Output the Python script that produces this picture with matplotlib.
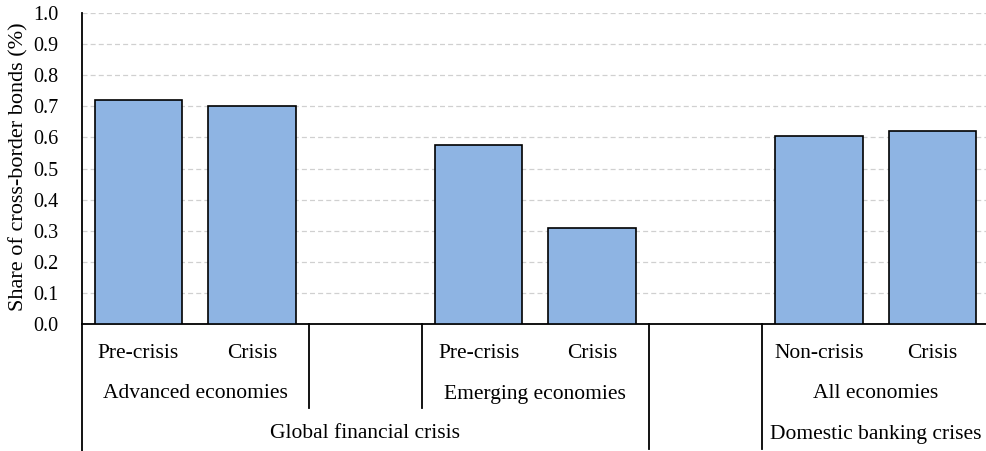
import matplotlib
matplotlib.use("Agg")
import matplotlib.pyplot as plt
import matplotlib.transforms as mtransforms
from matplotlib.lines import Line2D

plt.rcParams['font.family'] = ['Liberation Serif', 'DejaVu Serif']

# Data
sub_labels = ["Pre-crisis", "Crisis", "", "Pre-crisis", "Crisis", "", "Non-crisis", "Crisis"]
values = [0.72, 0.70, None, 0.575, 0.308, None, 0.605, 0.622]
group_labels = ["Advanced economies", "Emerging economies", "All economies"]
group_spans = [(0, 1), (3, 4), (6, 7)]
top_labels = ["Global financial crisis", "Domestic banking crises"]
top_spans = [(0, 4), (6, 7)]
y_ticks = [0.0, 0.1, 0.2, 0.3, 0.4, 0.5, 0.6, 0.7, 0.8, 0.9, 1.0]
y_label = "Share of cross-border bonds (%)"

W, H = 986, 451
fig = plt.figure(figsize=(W / 100, H / 100), dpi=100)
ax = fig.add_axes([81.75 / W, 1 - 324 / H, (989 - 81.75) / W, (324 - 13) / H])

xs = [i for i, v in enumerate(values) if v is not None]
vs = [v for v in values if v is not None]
ax.bar(xs, vs, width=0.77, color="#8EB4E3", edgecolor="black", linewidth=1.2, zorder=3)

ax.set_xlim(-0.5, len(values) - 0.5)
ax.set_ylim(0, 1.0)
ax.set_yticks(y_ticks)
ax.set_yticklabels([f"{t:.1f}" for t in y_ticks], fontsize=14.5)
ax.tick_params(axis="y", length=0, pad=17)
ax.set_xticks([])
ax.grid(axis="y", color="#d0d0d0", linestyle=(0, (4, 2.5)), linewidth=0.9, zorder=0)
for s in ["top", "right"]:
    ax.spines[s].set_visible(False)
ax.spines["left"].set_linewidth(1.3)
ax.spines["bottom"].set_linewidth(1.3)
ax.set_ylabel(y_label, fontsize=16)
ax.yaxis.set_label_coords(-0.059, 0.505)

trans = mtransforms.blended_transform_factory(ax.transData, fig.transFigure)

def fy(py):
    return 1 - py / H

fs = 15.5
for i, lab in enumerate(sub_labels):
    if lab:
        ax.text(i, fy(353), lab, transform=trans, ha="center", va="center", fontsize=fs)
for lab, (a, b) in zip(group_labels, group_spans):
    ax.text((a + b) / 2, fy(394), lab, transform=trans, ha="center", va="center", fontsize=fs)
for lab, (a, b) in zip(top_labels, top_spans):
    ax.text((a + b) / 2, fy(434), lab, transform=trans, ha="center", va="center", fontsize=fs)

# separators
def vline(xd, y0, y1):
    ln = Line2D([xd, xd], [fy(y0), fy(y1)], transform=trans, color="black",
                linewidth=1.3, clip_on=False)
    fig.add_artist(ln)

vline(-0.5, 324, 451)
vline(1.5, 324, 408)
vline(2.5, 324, 408)
vline(4.5, 324, 449)
vline(5.5, 324, 449)

fig.savefig("out.png", dpi=100)
